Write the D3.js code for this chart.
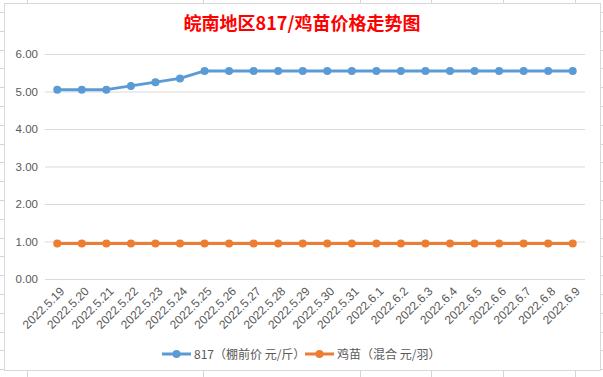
<!DOCTYPE html>
<html>
<head>
<meta charset="utf-8">
<script src="https://cdn.jsdelivr.net/npm/d3@7"></script>
<style>
  body { margin: 0; background: #fff; }
  svg { display: block; }
</style>
</head>
<body>
<div id="chart"></div>
<script>
// data
const dates = ['2022.5.19', '2022.5.20', '2022.5.21', '2022.5.22', '2022.5.23', '2022.5.24',
  '2022.5.25', '2022.5.26', '2022.5.27', '2022.5.28', '2022.5.29', '2022.5.30', '2022.5.31',
  '2022.6.1', '2022.6.2', '2022.6.3', '2022.6.4', '2022.6.5', '2022.6.6', '2022.6.7',
  '2022.6.8', '2022.6.9'];
const price817 = [5.05, 5.05, 5.05, 5.15, 5.25, 5.35, 5.55, 5.55, 5.55, 5.55, 5.55, 5.55,
  5.55, 5.55, 5.55, 5.55, 5.55, 5.55, 5.55, 5.55, 5.55, 5.55];
const priceChick = [0.95, 0.95, 0.95, 0.95, 0.95, 0.95, 0.95, 0.95, 0.95, 0.95, 0.95, 0.95,
  0.95, 0.95, 0.95, 0.95, 0.95, 0.95, 0.95, 0.95, 0.95, 0.95];
const yTicks = [0, 1, 2, 3, 4, 5, 6];
const seriesNames = ['817（棚前价 元/斤）', '鸡苗（混合 元/羽）'];
const seriesColors = ['#5B9BD5', '#ED7D31'];
const title = '皖南地区817/鸡苗价格走势图';

const width = 603;
const height = 377;

const svg = d3.select('#chart')
  .append('svg')
  .attr('width', width)
  .attr('height', height);

// excel sheet cells behind the chart
const sheet = svg.append('g').attr('stroke', '#d4d4d4').attr('stroke-width', 1);
const colLines = [27, 203, 360, 431, 503, 575];
colLines.forEach(x => {
  sheet.append('line').attr('x1', x + 0.5).attr('x2', x + 0.5).attr('y1', 0).attr('y2', height);
});
for (let y = 12; y < height; y += 18.8) {
  sheet.append('line').attr('x1', 0).attr('x2', width)
    .attr('y1', Math.round(y) + 0.5).attr('y2', Math.round(y) + 0.5);
}

// chart frame
svg.append('rect')
  .attr('x', 4.5).attr('y', 3.5)
  .attr('width', 596).attr('height', 367)
  .attr('fill', '#fff')
  .attr('stroke', '#d9d9d9');

const margin = {left: 45, right: 18, top: 54, bottom: 98};
const plotW = width - margin.left - margin.right;

const x = d3.scaleBand()
  .domain(dates)
  .range([margin.left, margin.left + plotW])
  .padding(0);

const y = d3.scaleLinear()
  .domain([0, 6])
  .range([279, 54]);

// title
svg.append('text')
  .attr('x', 302)
  .attr('y', 30)
  .attr('text-anchor', 'middle')
  .attr('fill', '#FF0000')
  .attr('font-family', '"Noto Sans CJK SC", sans-serif')
  .attr('font-weight', 'bold')
  .attr('font-size', 18)
  .text(title);

// y grid + labels
const axisY = d3.axisLeft(y)
  .tickValues(yTicks)
  .tickSize(-plotW)
  .tickPadding(7)
  .tickFormat(d3.format('.2f'));
const gy = svg.append('g')
  .attr('transform', `translate(${margin.left}, 0)`)
  .call(axisY);
gy.select('.domain').remove();
gy.selectAll('.tick line').attr('stroke', '#d9d9d9');
gy.selectAll('.tick text')
  .attr('fill', '#595959')
  .attr('font-family', '"Liberation Sans", Arial, sans-serif')
  .attr('font-size', 11.5);

// x axis labels
const axisX = d3.axisBottom(x).tickSize(0).tickPadding(0);
const gx = svg.append('g')
  .attr('transform', `translate(0, ${y(0)})`)
  .call(axisX);
gx.select('.domain').remove();
gx.selectAll('.tick text')
  .attr('fill', '#595959')
  .attr('font-family', '"Liberation Sans", Arial, sans-serif')
  .attr('font-size', 12)
  .attr('text-anchor', 'end')
  .attr('dy', null)
  .attr('y', 0)
  .attr('transform', 'translate(8, 13) rotate(-45)');

// lines
const series = [price817, priceChick];
const line = d3.line()
  .x((d, i) => x(dates[i]) + x.bandwidth() / 2)
  .y(d => y(d));

series.forEach((vals, k) => {
  const g = svg.append('g');
  g.append('path')
    .datum(vals)
    .attr('fill', 'none')
    .attr('stroke', seriesColors[k])
    .attr('stroke-width', 3)
    .attr('stroke-linejoin', 'round')
    .attr('d', line);
  g.selectAll('circle')
    .data(vals)
    .enter()
    .append('circle')
    .attr('cx', (d, i) => x(dates[i]) + x.bandwidth() / 2)
    .attr('cy', d => y(d))
    .attr('r', 4)
    .attr('fill', seriesColors[k]);
});

// legend
const legendX = [162, 305];
const legend = svg.append('g').attr('transform', 'translate(0, 354)');
seriesNames.forEach((name, k) => {
  const item = legend.append('g').attr('transform', `translate(${legendX[k]}, 0)`);
  item.append('line')
    .attr('x1', 0).attr('x2', 29)
    .attr('stroke', seriesColors[k])
    .attr('stroke-width', 3);
  item.append('circle')
    .attr('cx', 14.5).attr('r', 4)
    .attr('fill', seriesColors[k]);
  item.append('text')
    .attr('x', 32)
    .attr('y', 4.5)
    .attr('fill', '#595959')
    .attr('font-family', '"Noto Sans CJK SC", sans-serif')
    .attr('font-size', 12)
    .text(name);
});
</script>
</body>
</html>
